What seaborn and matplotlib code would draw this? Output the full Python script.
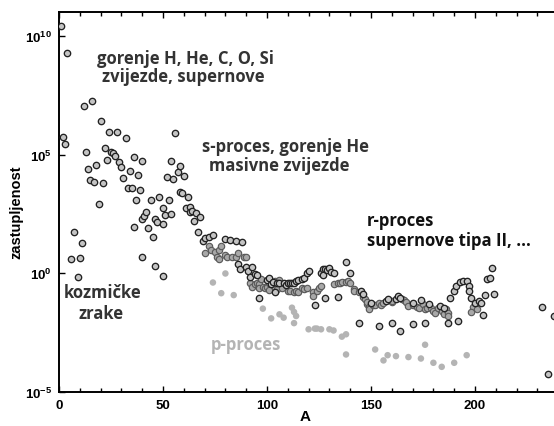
import numpy as np
import pandas as pd
import matplotlib
matplotlib.use("Agg")
import matplotlib.pyplot as plt
import seaborn as sns
from matplotlib.ticker import FixedLocator, MultipleLocator, FuncFormatter, NullLocator

# mass number A and log10(abundance)
# dark-ringed points
A_dark = [1, 2, 3, 4, 6, 7, 9, 10, 11, 12, 13, 14, 15, 16, 17, 18, 19, 20, 21, 22,
          23, 24, 25, 26, 27, 28, 29, 30, 31, 32, 33, 34, 35, 36, 36, 37, 38, 39, 40, 40,
          40, 41, 42, 43, 44, 45, 46, 46, 47, 48, 50, 50, 50, 51, 52, 53, 54, 54, 55, 56,
          57, 58, 58, 59, 60, 61, 62, 63, 63, 64, 65, 66, 67, 68, 69, 70, 72, 74, 80, 82,
          85, 88, 86, 87, 90, 91, 93, 92, 94, 95, 96, 100, 101, 102, 103, 104, 105, 106, 108, 109,
          110, 111, 112, 113, 114, 115, 117, 118, 119, 120, 123, 126, 127, 127, 128, 128, 129, 130, 131, 132,
          134, 138, 140, 144, 145, 146, 154, 160, 164, 170, 176, 192, 150, 157, 158, 162, 163, 164, 170, 174,
          178, 183, 185, 187, 188, 190, 191, 193, 194, 196, 197, 197, 198, 200, 202, 203, 204, 205, 206, 207,
          208, 209, 232, 235, 238]
log_dark = [10.43, 5.73, 5.44, 9.27, 0.62, 1.72, -0.14, 0.66, 1.27, 7.06, 5.12, 4.39, 3.94, 7.27, 3.83, 4.57, 2.91, 6.40, 3.79, 5.26,
            4.77, 5.94, 5.09, 5.05, 4.95, 5.96, 4.67, 4.49, 4.00, 5.68, 3.59, 4.32, 3.59, 4.88, 1.93, 3.09, 4.13, 3.51, 4.74, 2.28,
            0.70, 2.42, 2.59, 1.90, 3.09, 1.51, 2.30, 0.31, 2.15, 3.22, 2.76, 2.07, -0.13, 2.45, 4.04, 3.08, 4.71, 2.49, 3.97, 5.91,
            4.27, 4.50, 3.43, 3.36, 4.10, 2.73, 3.22, 2.77, 2.56, 2.63, 2.18, 2.52, 1.72, 2.35, 1.36, 1.48, 1.51, 1.62, 1.46, 1.40,
            1.36, 1.30, 0.38, 0.20, 0.28, 0.10, 0.27, -0.15, -0.04, -0.08, -1.03, -0.28, -0.22, -0.46, -0.35, -0.79, -0.39, -0.42, -0.39, -0.49,
            -0.43, -0.39, -0.43, -0.39, -0.32, -0.30, -0.25, -0.18, 0.03, 0.09, -1.35, 0.03, 0.17, -0.08, 0.20, -1.05, 0.14, 0.24, 0.05, -0.01,
            -0.98, 0.48, -0.01, -2.11, -0.75, -0.86, -2.20, -2.08, -2.43, -2.15, -2.08, -2.01, -1.24, -1.17, -1.10, -1.10, -0.96, -1.03, -1.24, -1.13,
            -1.31, -1.38, -1.45, -2.08, -1.03, -0.75, -0.53, -0.37, -0.32, -0.33, -0.53, -0.75, -1.03, -1.27, -1.17, -1.24, -1.77, -0.93, -0.25, -0.22,
            0.24, -0.88, -1.41, -4.23, -1.80]

# lighter filled points
A_grey = [70, 72, 73, 75, 76, 77, 77, 78, 80, 81, 83, 85, 86, 89, 90, 92, 93, 94, 95, 96,
          96, 97, 98, 99, 100, 101, 101, 104, 104, 105, 106, 107, 110, 111, 113, 114, 115, 117, 118, 119,
          122, 122, 124, 125, 126, 132, 134, 135, 136, 138, 139, 140, 142, 142, 144, 146, 147, 148, 148, 149,
          149, 151, 152, 154, 155, 156, 160, 160, 165, 166, 167, 168, 170, 172, 173, 175, 176, 177, 179, 180,
          181, 182, 184, 185, 186, 187, 187, 199, 201, 198]
log_grey = [0.87, 1.13, 0.98, 0.90, 0.70, 0.98, 0.62, 1.13, 0.76, 0.70, 0.70, 0.70, 0.87, 0.70, 0.70, -0.39, -0.56, -0.46, -0.39, -0.46,
            -0.60, -0.25, -0.56, -0.60, -0.56, -0.70, -0.39, -0.60, -0.32, -0.68, -0.28, -0.60, -0.75, -0.75, -0.79, -0.75, -0.81, -0.63, -0.68, -0.60,
            -0.81, -0.96, -0.75, -0.60, -0.53, -0.46, -0.39, -0.42, -0.35, -0.35, -0.33, -0.39, -0.68, -0.75, -0.79, -0.98, -1.10, -1.31, -1.21, -1.41,
            -1.52, -1.35, -1.35, -1.24, -1.35, -1.27, -1.21, -1.17, -1.07, -1.13, -1.21, -1.38, -1.35, -1.41, -1.45, -1.31, -1.52, -1.45, -1.45, -1.59,
            -1.66, -1.45, -1.59, -1.73, -1.52, -1.66, -1.80, -1.41, -1.49, -1.63]

# p-process points
A_p = [74, 78, 80, 84, 98, 102, 106, 108, 112, 113, 114, 113, 120, 123, 124, 126, 130, 132, 136, 138,
       138, 152, 156, 158, 162, 168, 174, 176, 180, 184, 190, 196]
log_p = [-0.39, -0.84, -0.01, -0.92, -1.49, -1.90, -1.73, -1.87, -1.45, -1.63, -1.80, -2.10, -2.36, -2.33, -2.33, -2.36, -2.36, -2.41, -2.67, -2.57,
         -3.42, -3.21, -3.67, -3.45, -3.49, -3.53, -3.59, -3.01, -3.77, -3.94, -3.77, -3.45]

dark = pd.DataFrame({"A": A_dark, "ab": np.power(10.0, log_dark)})
grey = pd.DataFrame({"A": A_grey, "ab": np.power(10.0, log_grey)})
pp = pd.DataFrame({"A": A_p, "ab": np.power(10.0, log_p)})

sns.set_theme(style="ticks")
plt.rcParams["mathtext.fontset"] = "custom"
plt.rcParams["mathtext.bf"] = "Liberation Sans:bold"
plt.rcParams["mathtext.rm"] = "Liberation Sans:bold"

fig = plt.figure(figsize=(5.54, 4.27), dpi=100)
ax = fig.add_axes([59 / 554, 34 / 427, 509.6 / 554, 380 / 427])

sns.scatterplot(x="A", y="ab", data=pp, ax=ax, s=22, color="#b4b4b4", edgecolor="none", zorder=2)
sns.scatterplot(x="A", y="ab", data=grey, ax=ax, s=21, color="#a8a8a8", edgecolor="#5a5a5a", linewidth=0.85, zorder=3)
sns.scatterplot(x="A", y="ab", data=dark, ax=ax, s=21, color="#c4c4c4", edgecolor="#222222", linewidth=0.95, zorder=4)

ax.set_yscale("log")
ax.set_xlim(0, 245)
ax.set_ylim(1e-5, 1e11)
ax.yaxis.set_major_locator(FixedLocator([1e-5, 1, 1e5, 1e10]))
ax.yaxis.set_minor_locator(NullLocator())
ax.yaxis.set_major_formatter(FuncFormatter(lambda v, p: r"$\mathbf{10^{%d}}$" % round(np.log10(v))))
ax.xaxis.set_major_locator(MultipleLocator(50))
ax.xaxis.set_minor_locator(MultipleLocator(10))
ax.tick_params(which="both", direction="in", top=True, right=True, width=1.0, color="black", labelcolor="black")
ax.tick_params(which="major", length=4, labelsize=9.5, pad=5)
ax.tick_params(which="minor", length=3)
for lab in ax.get_xticklabels():
    lab.set_fontweight("bold")
    lab.set_family("Liberation Sans")
for sp in ax.spines.values():
    sp.set_linewidth(1.4)
    sp.set_color("black")

ax.set_xlabel("A", fontsize=11, fontweight="bold", family="Liberation Sans", color="black")
ax.set_ylabel("zastupljenost", fontsize=10.5, fontweight="bold", family="Liberation Sans", color="black")
ax.xaxis.set_label_coords(0.483, -0.045)
ax.yaxis.set_label_coords(-0.07, 0.476)

tf = dict(family="Open Sans", fontweight="bold", fontsize=12)
ax.text(61, 10 ** 8.86, "gorenje H, He, C, O, Si", ha="center", va="baseline", color="#333333", **tf)
ax.text(60, 10 ** 8.10, "zvijezde, supernove", ha="center", va="baseline", color="#333333", **tf)
ax.text(109, 10 ** 5.15, "s-proces, gorenje He", ha="center", va="baseline", color="#333333", **tf)
ax.text(106, 10 ** 4.35, "masivne zvijezde", ha="center", va="baseline", color="#333333", **tf)
ax.text(148, 10 ** 2.03, "r-proces", ha="left", va="baseline", color="#111111", **tf)
ax.text(148, 10 ** 1.18, "supernove tipa II, ...", ha="left", va="baseline", color="#111111", **tf)
ax.text(21, 10 ** -1.01, "kozmičke", ha="center", va="baseline", color="#333333", **tf)
ax.text(20, 10 ** -1.90, "zrake", ha="center", va="baseline", color="#333333", **tf)
ax.text(90, 10 ** -3.21, "p-proces", ha="center", va="baseline", color="#b4b4b4", **tf)

fig.savefig("out.png", dpi=100)
